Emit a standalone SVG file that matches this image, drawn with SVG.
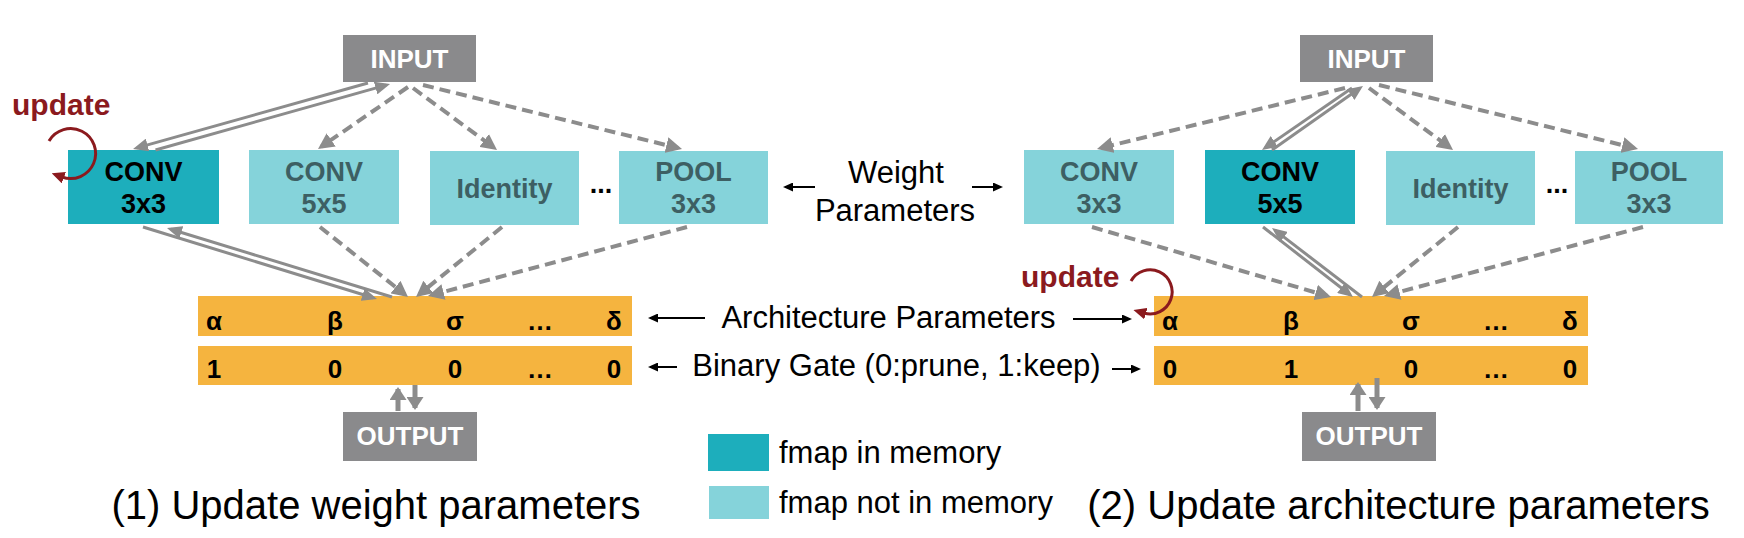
<svg xmlns="http://www.w3.org/2000/svg" width="1744" height="538" viewBox="0 0 1744 538">
<defs>
<style>
text{font-family:"Liberation Sans",Arial,Helvetica,sans-serif}
.dark{fill:#1DAEBC}
.light{fill:#85D3DA}
.io{fill:#8A8A8C}
.gate{fill:#F5B43F}
.tk{font-weight:bold;font-size:27px;fill:#000;text-anchor:middle}
.tl{font-weight:bold;font-size:27px;fill:#3D5F63;text-anchor:middle}
.tio{font-weight:bold;font-size:26px;fill:#fff;text-anchor:middle}
.tg{font-weight:bold;font-size:26px;fill:#000;text-anchor:middle}
.lab{font-size:31px;fill:#000;text-anchor:middle}
.title{font-size:40px;fill:#000;text-anchor:middle}
.upd{font-weight:bold;font-size:30px;fill:#8B1A1E}
.dash{fill:none;stroke:#8C8C8C;stroke-width:4;stroke-dasharray:11 6;marker-end:url(#arrG)}
.dbl{fill:none;stroke:#8C8C8C;stroke-width:3;marker-end:url(#arrD)}
.vert{fill:none;stroke:#8C8C8C;stroke-width:5;marker-end:url(#arrV)}
.blk{fill:none;stroke:#000;stroke-width:2;marker-end:url(#arrK)}
.red{fill:none;stroke:#8B1A1E;stroke-width:3;marker-end:url(#arrR)}
</style>
<marker id="arrG" markerUnits="userSpaceOnUse" viewBox="0 0 16 16" markerWidth="16" markerHeight="16" refX="12" refY="8" orient="auto"><path d="M0,0 L16,8 L0,16 z" fill="#8C8C8C"/></marker>
<marker id="arrD" markerUnits="userSpaceOnUse" viewBox="0 0 15 13" markerWidth="15" markerHeight="13" refX="11" refY="6.5" orient="auto"><path d="M0,0 L15,6.5 L0,13 z" fill="#8C8C8C"/></marker>
<marker id="arrV" markerUnits="userSpaceOnUse" viewBox="0 0 13 17" markerWidth="13" markerHeight="17" refX="11" refY="8.5" orient="auto"><path d="M0,0 L13,8.5 L0,17 z" fill="#8C8C8C"/></marker>
<marker id="arrK" markerUnits="userSpaceOnUse" viewBox="0 0 10 9" markerWidth="10" markerHeight="9" refX="8" refY="4.5" orient="auto"><path d="M0,0 L10,4.5 L0,9 z" fill="#000"/></marker>
<marker id="arrR" markerUnits="userSpaceOnUse" viewBox="0 0 13 12" markerWidth="13" markerHeight="12" refX="2" refY="6" orient="auto"><path d="M0,0 L13,6 L0,12 z" fill="#8B1A1E"/></marker>
</defs>
<rect width="1744" height="538" fill="#fff"/>

<!-- left panel nodes -->
<g id="input-left"><rect class="io" x="343" y="35" width="133" height="47"/><text class="tio" x="409.5" y="68">INPUT</text></g>
<g id="conv3x3-left"><rect class="dark" x="68" y="150" width="151" height="74"/><text class="tk" x="143.5" y="181">CONV</text><text class="tk" x="143.5" y="213">3x3</text></g>
<g id="conv5x5-left"><rect class="light" x="249" y="150" width="150" height="74"/><text class="tl" x="324" y="181">CONV</text><text class="tl" x="324" y="213">5x5</text></g>
<g id="identity-left"><rect class="light" x="430" y="151" width="149" height="74"/><text class="tl" x="504.5" y="198">Identity</text></g>
<g id="dots-left"><text class="tk" x="601" y="193">...</text></g>
<g id="pool-left"><rect class="light" x="619" y="151" width="149" height="73"/><text class="tl" x="693.5" y="181">POOL</text><text class="tl" x="693.5" y="213">3x3</text></g>
<g id="arch-left"><rect class="gate" x="198" y="296" width="434" height="40"/>
<text class="tg" x="214" y="330">α</text><text class="tg" x="335" y="330">β</text><text class="tg" x="455" y="330">σ</text><text class="tg" x="540" y="330">…</text><text class="tg" x="614" y="330">δ</text></g>
<g id="gate-left"><rect class="gate" x="198" y="346" width="434" height="39"/>
<text class="tg" x="214" y="378">1</text><text class="tg" x="335" y="378">0</text><text class="tg" x="455" y="378">0</text><text class="tg" x="540" y="378">…</text><text class="tg" x="614" y="378">0</text></g>
<g id="output-left"><rect class="io" x="343" y="412" width="134" height="49"/><text class="tio" x="410" y="445">OUTPUT</text></g>
<g id="update-left"><text class="upd" x="12" y="115">update</text></g>

<!-- right panel nodes -->
<g id="input-right"><rect class="io" x="1300" y="35" width="133" height="47"/><text class="tio" x="1366.5" y="68">INPUT</text></g>
<g id="conv3x3-right"><rect class="light" x="1024" y="150" width="150" height="74"/><text class="tl" x="1099" y="181">CONV</text><text class="tl" x="1099" y="213">3x3</text></g>
<g id="conv5x5-right"><rect class="dark" x="1205" y="150" width="150" height="74"/><text class="tk" x="1280" y="181">CONV</text><text class="tk" x="1280" y="213">5x5</text></g>
<g id="identity-right"><rect class="light" x="1386" y="151" width="149" height="74"/><text class="tl" x="1460.5" y="198">Identity</text></g>
<g id="dots-right"><text class="tk" x="1557" y="193">...</text></g>
<g id="pool-right"><rect class="light" x="1575" y="151" width="148" height="73"/><text class="tl" x="1649" y="181">POOL</text><text class="tl" x="1649" y="213">3x3</text></g>
<g id="arch-right"><rect class="gate" x="1154" y="296" width="434" height="40"/>
<text class="tg" x="1170" y="330">α</text><text class="tg" x="1291" y="330">β</text><text class="tg" x="1411" y="330">σ</text><text class="tg" x="1496" y="330">…</text><text class="tg" x="1570" y="330">δ</text></g>
<g id="gate-right"><rect class="gate" x="1154" y="346" width="434" height="39"/>
<text class="tg" x="1170" y="378">0</text><text class="tg" x="1291" y="378">1</text><text class="tg" x="1411" y="378">0</text><text class="tg" x="1496" y="378">…</text><text class="tg" x="1570" y="378">0</text></g>
<g id="output-right"><rect class="io" x="1302" y="412" width="134" height="49"/><text class="tio" x="1369" y="445">OUTPUT</text></g>
<g id="update-right"><text class="upd" x="1021" y="287">update</text></g>

<!-- middle labels -->
<g id="label-weight"><text class="lab" x="896" y="183">Weight</text><text class="lab" x="895" y="221">Parameters</text></g>
<g id="label-arch"><text class="lab" x="888.5" y="328">Architecture Parameters</text></g>
<g id="label-gate"><text class="lab" x="896.5" y="376">Binary Gate (0:prune, 1:keep)</text></g>

<!-- legend -->
<g id="legend">
<rect class="dark" x="708" y="434" width="61" height="37"/>
<text font-size="31" x="779" y="463">fmap in memory</text>
<rect class="light" x="709" y="486" width="60" height="33"/>
<text font-size="31" x="779" y="513">fmap not in memory</text>
</g>

<!-- titles -->
<g id="titles">
<text class="title" x="376" y="519">(1) Update weight parameters</text>
<text class="title" x="1398.5" y="519">(2) Update architecture parameters</text>
</g>

<!-- connectors -->
<g id="connectors">
<!-- left panel -->
<path class="dash" d="M408,87 L321.3,146.7"/>
<path class="dash" d="M413,88 L493.8,147.6"/>
<path class="dash" d="M423,85 L678.1,148"/>
<path class="dash" d="M320,227 L404.9,294.5"/>
<path class="dash" d="M502,227 L419.1,294.5"/>
<path class="dash" d="M687,227 L431.9,295"/>
<path class="dbl" d="M368,83 L136.9,147.9"/>
<path class="dbl" d="M155.5,150 L386.2,85.1"/>
<path class="dbl" d="M143,227 L373.2,297.8"/>
<path class="dbl" d="M392,297 L170.8,229.2"/>
<path class="vert" d="M398,411 L398,389"/>
<path class="vert" d="M415,385 L415,408"/>
<!-- right panel -->
<path class="dash" d="M1345,88 L1100.9,148"/>
<path class="dash" d="M1369,88 L1449.8,147.6"/>
<path class="dash" d="M1379,85 L1634.1,148"/>
<path class="dash" d="M1092,227 L1327.2,295.9"/>
<path class="dash" d="M1458,227 L1375.1,294.5"/>
<path class="dash" d="M1643,227 L1387.9,295"/>
<path class="dbl" d="M1352,88 L1265.3,147.7"/>
<path class="dbl" d="M1272,150 L1359.7,88.3"/>
<path class="dbl" d="M1263,227 L1349.8,294.5"/>
<path class="dbl" d="M1362,297 L1275.2,230.4"/>
<path class="vert" d="M1358,411 L1358,384"/>
<path class="vert" d="M1377,378 L1377,408"/>
<!-- label arrows -->
<path class="blk" d="M815,187 L785,187"/>
<path class="blk" d="M972,187 L1001,187"/>
<path class="blk" d="M705,318 L650,318"/>
<path class="blk" d="M1073,319 L1130,319"/>
<path class="blk" d="M677,367 L650,367"/>
<path class="blk" d="M1112,369 L1139,369"/>
<!-- update loops -->
<path class="red" d="M49,141 A25,25 0 1 1 62,177"/>
<path class="red" d="M1131,281 A22,22 0 1 1 1144,313"/>
</g>
</svg>
